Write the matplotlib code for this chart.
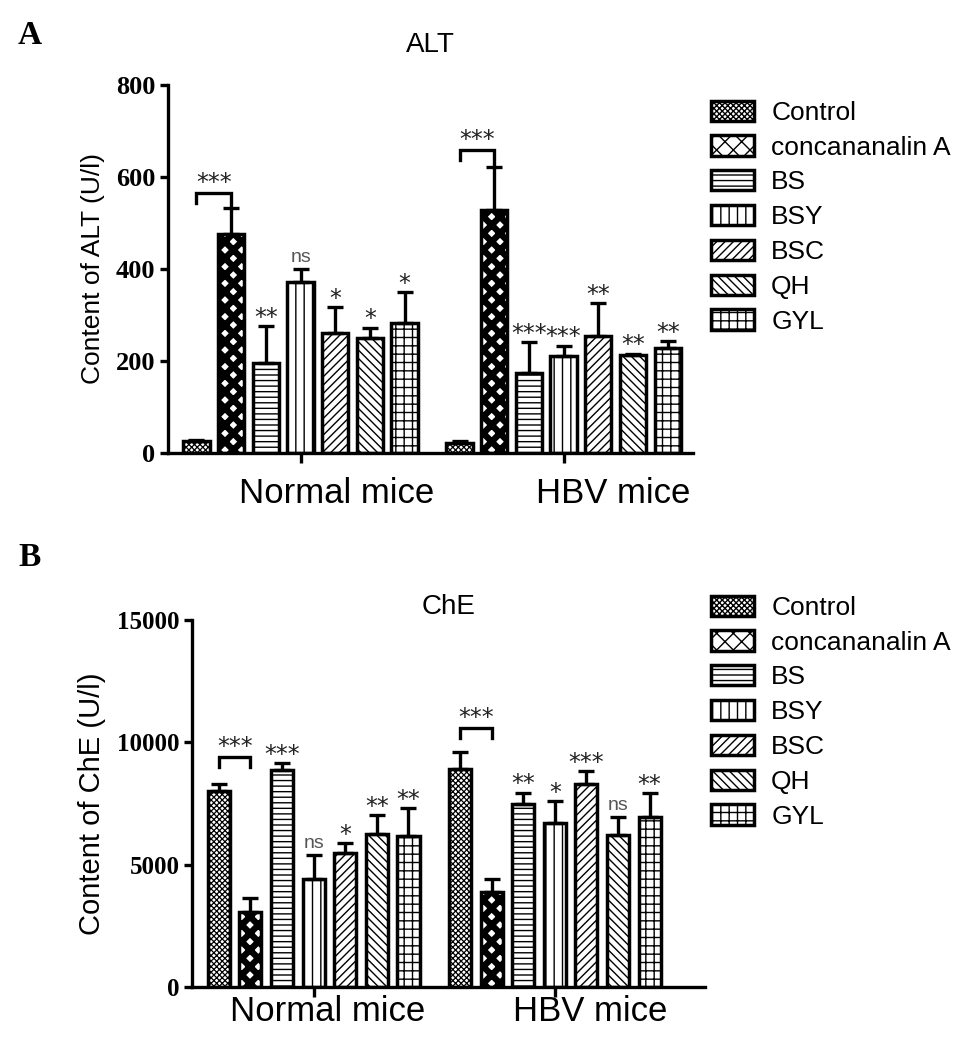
import numpy as np
import matplotlib
matplotlib.use("Agg")
import matplotlib.pyplot as plt

plt.rcParams["font.family"] = ["Liberation Sans", "DejaVu Sans"]

# -----------------------------
# Data
# -----------------------------
groups = ["Normal mice", "HBV mice"]
treatments = ["Control", "concananalin A", "BS", "BSY", "BSC", "QH", "GYL"]

alt_normal = [25, 476, 195, 372, 261, 250, 283]
alt_normal_err = [4, 57, 80, 28, 56, 22, 67]
alt_hbv = [22, 528, 174, 211, 254, 213, 228]
alt_hbv_err = [4, 94, 67, 22, 72, 3, 15]
alt_sig_normal = ["", "", "**", "ns", "*", "*", "*"]
alt_sig_hbv = ["", "", "***", "***", "**", "**", "**"]

che_normal = [8000, 3070, 8870, 4410, 5480, 6250, 6170]
che_normal_err = [280, 570, 290, 980, 400, 780, 1140]
che_hbv = [8900, 3880, 7500, 6700, 8300, 6210, 6950]
che_hbv_err = [700, 530, 450, 900, 530, 740, 980]
che_sig_normal = ["", "", "***", "ns", "*", "**", "**"]
che_sig_hbv = ["", "", "**", "*", "***", "ns", "**"]

# bracket heights (Control vs concananalin A) per group
alt_bracket = [565, 659]
che_bracket = [9400, 10585]

hatches = ["xxxxxx", "xx", "---", "||", "////", "\\\\\\\\", "++"]
hatch_lw = [0.9, 4.6, 1.0, 1.0, 1.0, 1.0, 1.0]


def draw_panel(ax, normal, normal_err, hbv, hbv_err, sig_n, sig_h, bracket,
               gap, width, ymax, yticks, ylabel, title, tick_fs, label_fs,
               xlim, title_pad, label_dy, label_dx):
    for j, name in enumerate(treatments):
        x = [j, gap + j]
        with plt.rc_context({"hatch.linewidth": hatch_lw[j]}):
            bars = ax.bar(x, [normal[j], hbv[j]], width=width, color="white",
                          edgecolor="black", linewidth=2.5, hatch=hatches[j],
                          label=name, zorder=2)
        for b in bars:
            if hasattr(b, "set_hatch_linewidth"):
                b.set_hatch_linewidth(hatch_lw[j])
        ax.errorbar(x, [normal[j], hbv[j]],
                    yerr=[[0, 0], [normal_err[j], hbv_err[j]]],
                    fmt="none", ecolor="black", elinewidth=2.4,
                    capsize=6, capthick=2.4, zorder=3)

    # significance marks
    for base, vals, errs, sigs in [(0, normal, normal_err, sig_n),
                                   (gap, hbv, hbv_err, sig_h)]:
        for j, s in enumerate(sigs):
            if not s:
                continue
            top = vals[j] + errs[j]
            if s == "ns":
                ax.annotate(s, (base + j, top), xytext=(0, 2),
                            textcoords="offset points", ha="center",
                            va="bottom", fontsize=14, color="#555555")
            else:
                ax.annotate(s, (base + j, top), xytext=(0, 1),
                            textcoords="offset points", ha="center",
                            va="baseline", fontsize=17, family="DejaVu Sans",
                            color="#222222")

    # brackets
    drop = ymax * 0.027
    for base, vals, errs, h in [(0, normal, normal_err, bracket[0]),
                                (gap, hbv, hbv_err, bracket[1])]:
        cap = vals[1] + errs[1]
        right_end = cap if h - cap < 2 * drop else h - drop
        ax.plot([base, base, base + 1, base + 1],
                [h - drop, h, h, right_end],
                color="black", lw=2.4, solid_joinstyle="miter", zorder=3)
        ax.annotate("***", (base + 0.5, h), xytext=(0, 2),
                    textcoords="offset points", ha="center", va="baseline",
                    fontsize=17, family="DejaVu Sans", color="#222222")

    ax.set_xlim(*xlim)
    ax.set_ylim(0, ymax)
    ax.set_yticks(yticks)
    ax.set_yticklabels([str(t) for t in yticks], family="Liberation Serif",
                       fontweight="bold", fontsize=tick_fs)
    centers = [3, gap + 3]
    ax.set_xticks(centers)
    ax.set_xticklabels(["", ""])
    # group labels sit a little right of their tick, as in the original
    for c, name, dx in zip(centers, groups, label_dx):
        ax.annotate(name, (c, 0), xycoords=("data", "axes fraction"),
                    xytext=(dx * 0.72, -label_dy), textcoords="offset points",
                    ha="center", va="top", fontsize=25)
    ax.tick_params(axis="both", width=2.4, length=7, direction="out")
    ax.tick_params(axis="y", pad=3, length=6)
    ax.set_ylabel(ylabel, fontsize=label_fs, labelpad=8)
    for side in ["top", "right"]:
        ax.spines[side].set_visible(False)
    for side in ["left", "bottom"]:
        ax.spines[side].set_linewidth(2.4)
    ax.set_title(title, fontsize=20, pad=title_pad)


fig = plt.figure(figsize=(9.69, 10.44), dpi=100)

ax1 = fig.add_axes([0.1734, 0.5661, 0.5418, 0.3525])
draw_panel(ax1, alt_normal, alt_normal_err, alt_hbv, alt_hbv_err,
           alt_sig_normal, alt_sig_hbv, alt_bracket, 7.58, 0.76, 800,
           [0, 200, 400, 600, 800], "Content of ALT (U/l)", "ALT",
           19, 19, (-0.82, 14.31), 24, 17, (36, 50))

ax2 = fig.add_axes([0.1981, 0.0546, 0.5294, 0.3515])
draw_panel(ax2, che_normal, che_normal_err, che_hbv, che_hbv_err,
           che_sig_normal, che_sig_hbv, che_bracket, 7.63, 0.70, 15000,
           [0, 5000, 10000, 15000], "Content of ChE (U/l)", "ChE",
           18, 21, (-0.85, 15.38), 0, 6, (14, 35))

for ax, top in [(ax1, 90), (ax2, 585)]:
    ax.legend(loc="upper left", bbox_to_anchor=(700 / 969, 1 - top / 1044),
              bbox_transform=fig.transFigure, frameon=False, fontsize=19,
              handlelength=1.65, handleheight=0.8, labelspacing=0.4,
              handletextpad=0.65, borderaxespad=0)

fig.text(18 / 969, 1 - 36 / 1044, "A", family="Liberation Serif",
         fontweight="bold", fontsize=24, va="center")
fig.text(18 / 969, 1 - 557 / 1044, "B", family="Liberation Serif",
         fontweight="bold", fontsize=24, va="center")

fig.savefig("out.png", dpi=100)
